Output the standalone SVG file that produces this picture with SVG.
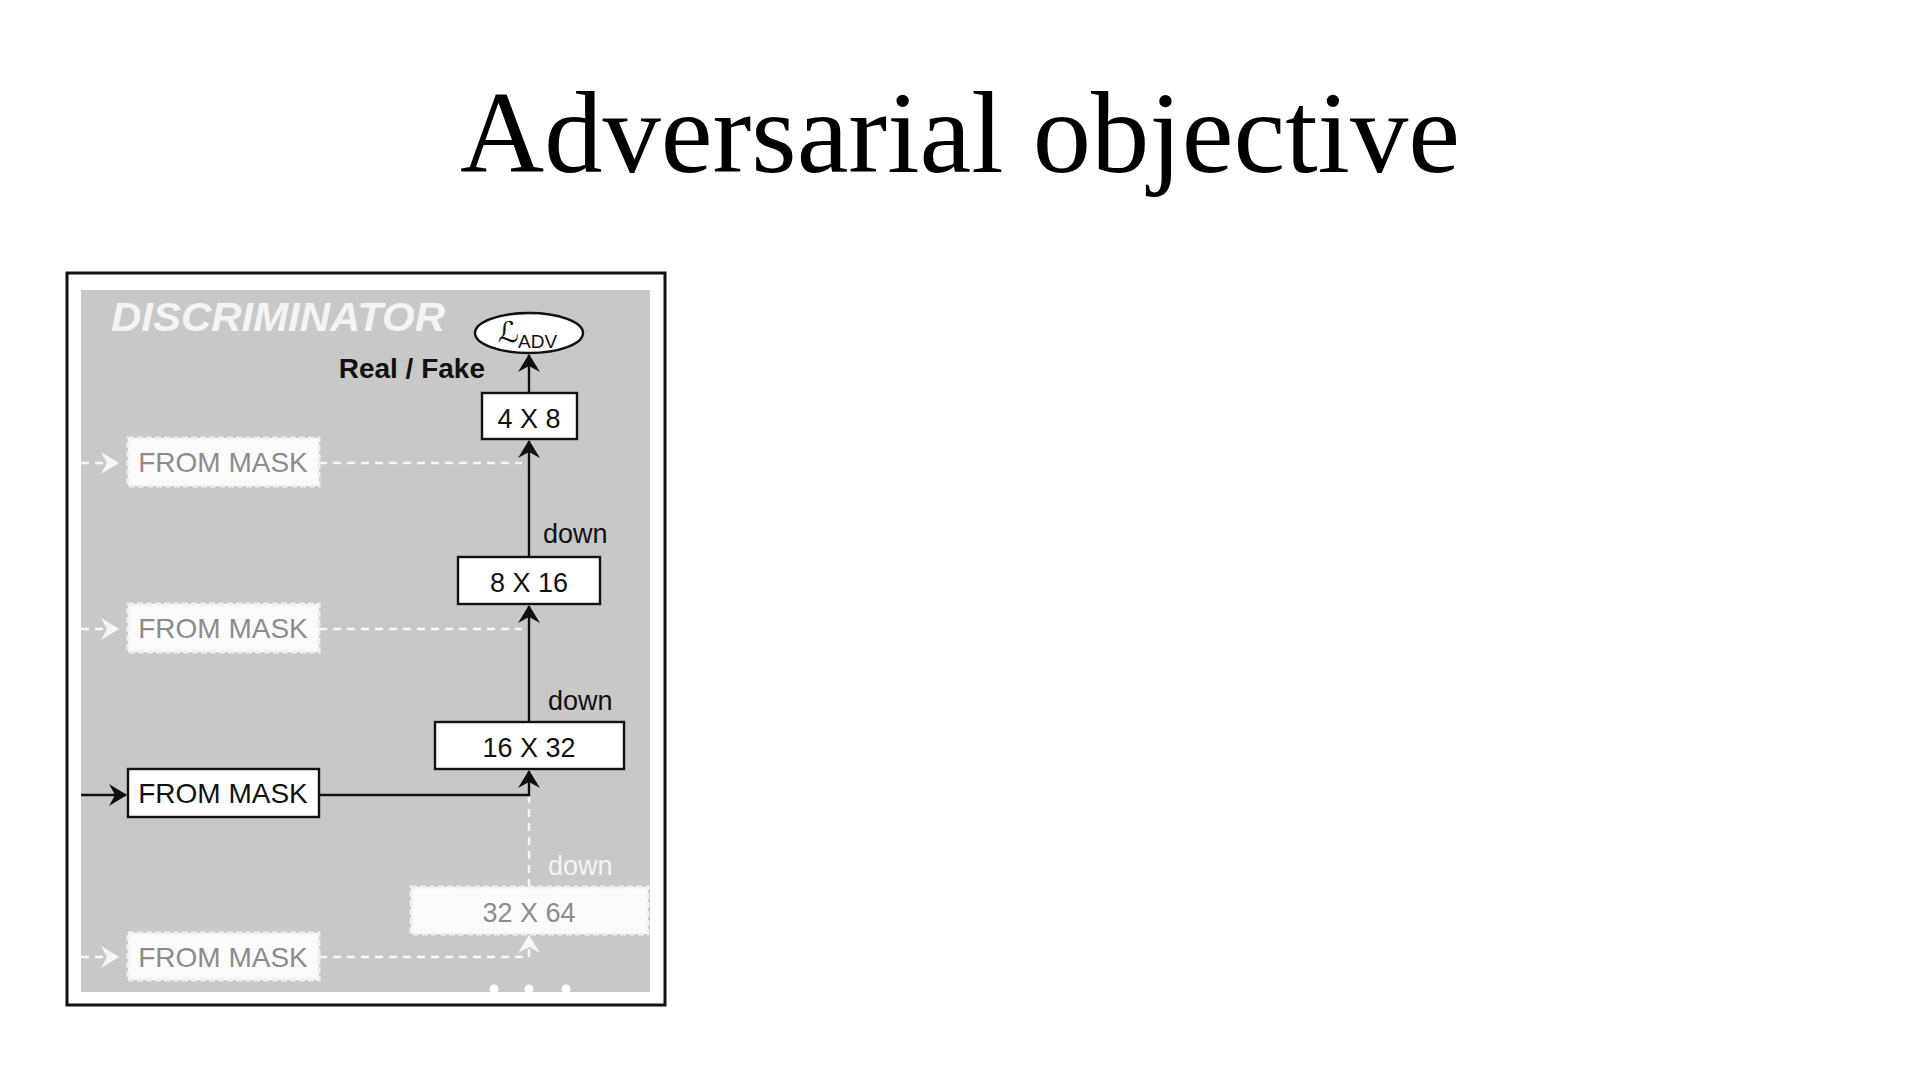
<svg xmlns="http://www.w3.org/2000/svg" width="1920" height="1080" viewBox="0 0 1920 1080">
<style>
.lbl{font-family:"Liberation Sans",Arial,sans-serif;font-size:27px;fill:#111;}
.mid{text-anchor:middle;}
.faded{fill:#8c8c8c;}
.box{fill:#fff;stroke:#111;stroke-width:2.4;}
.fbox{fill:#fbfbfb;stroke:#efefef;stroke-width:3;stroke-dasharray:6 3;}
.solid{fill:none;stroke:#111;stroke-width:2.4;}
.dash{fill:none;stroke:#f6f6f6;stroke-width:2.5;stroke-dasharray:8 6;}
</style>
<defs>
<marker id="ah" viewBox="0 0 18 22" refX="17" refY="11" markerWidth="18" markerHeight="22" markerUnits="userSpaceOnUse" orient="auto">
<path d="M0,0 L18,11 L0,22 L6,11 z" fill="#111"/>
</marker>
<marker id="ahw" viewBox="0 0 18 22" refX="17" refY="11" markerWidth="18" markerHeight="22" markerUnits="userSpaceOnUse" orient="auto">
<path d="M0,0 L18,11 L0,22 L6,11 z" fill="#f6f6f6"/>
</marker>
</defs>
<rect width="1920" height="1080" fill="#fff"/>
<text x="960" y="172" text-anchor="middle" font-family="'Liberation Serif','Times New Roman',serif" font-size="116" textLength="1000" lengthAdjust="spacingAndGlyphs" fill="#000">Adversarial objective</text>

<g id="frame">
<rect x="67" y="273" width="598" height="732" fill="#fff" stroke="#111" stroke-width="3"/>
<rect x="81" y="290" width="569" height="702" fill="#c8c8c8"/>
<text x="111" y="331" font-family="'Liberation Sans',Arial,sans-serif" font-weight="bold" font-style="italic" font-size="40" textLength="334" lengthAdjust="spacingAndGlyphs" fill="#f4f4f4">DISCRIMINATOR</text>
<text x="485" y="378" text-anchor="end" font-family="'Liberation Sans',Arial,sans-serif" font-weight="bold" font-size="28" fill="#111">Real / Fake</text>
<circle cx="494" cy="989" r="4.5" fill="#fff"/>
<circle cx="529" cy="989" r="4.5" fill="#fff"/>
<circle cx="566" cy="989" r="4.5" fill="#fff"/>
</g>

<g id="connectors">
<path class="dash" d="M81,463 H118" marker-end="url(#ahw)"/>
<path class="dash" d="M319,463 H522"/>
<path class="dash" d="M81,629 H118" marker-end="url(#ahw)"/>
<path class="dash" d="M319,629 H522"/>
<path class="dash" d="M81,957 H118" marker-end="url(#ahw)"/>
<path class="dash" d="M319,957 H529 V936" marker-end="url(#ahw)"/>
<path class="dash" d="M529,887 V797"/>
<path class="solid" d="M81,795 H126" marker-end="url(#ah)"/>
<path class="solid" d="M319,795 H529 V771" marker-end="url(#ah)"/>
<path class="solid" d="M529,722 V606" marker-end="url(#ah)"/>
<path class="solid" d="M529,557 V441" marker-end="url(#ah)"/>
<path class="solid" d="M529,393 V355" marker-end="url(#ah)"/>
<text class="lbl" x="543" y="543">down</text>
<text class="lbl" x="548" y="710">down</text>
<text class="lbl" x="548" y="875" style="fill:#f4f4f4">down</text>
</g>

<g id="loss">
<ellipse cx="529" cy="333" rx="54" ry="20" fill="#fff" stroke="#111" stroke-width="2.4"/>
<text x="498" y="342" font-family="'DejaVu Sans',sans-serif" font-size="29" fill="#111">ℒ</text>
<text x="518" y="348" font-family="'Liberation Sans',Arial,sans-serif" font-size="19" fill="#111">ADV</text>
</g>

<g id="n4x8">
<rect class="box" x="482" y="393" width="95" height="46"/>
<text class="lbl mid" x="529" y="428">4 X 8</text>
</g>
<g id="n8x16">
<rect class="box" x="458" y="557" width="142" height="47"/>
<text class="lbl mid" x="529" y="592">8 X 16</text>
</g>
<g id="n16x32">
<rect class="box" x="435" y="722" width="189" height="47"/>
<text class="lbl mid" x="529" y="757">16 X 32</text>
</g>
<g id="n32x64">
<rect class="fbox" x="411" y="887" width="237" height="47"/>
<text class="lbl mid faded" x="529" y="922">32 X 64</text>
</g>
<g id="mask1">
<rect class="fbox" x="128" y="438" width="191" height="48"/>
<text class="lbl mid faded" x="223" y="472" style="font-size:28px">FROM MASK</text>
</g>
<g id="mask2">
<rect class="fbox" x="128" y="604" width="191" height="48"/>
<text class="lbl mid faded" x="223" y="638" style="font-size:28px">FROM MASK</text>
</g>
<g id="mask3">
<rect class="box" x="128" y="769" width="191" height="48"/>
<text class="lbl mid" x="223" y="803" style="font-size:28px">FROM MASK</text>
</g>
<g id="mask4">
<rect class="fbox" x="128" y="933" width="191" height="47"/>
<text class="lbl mid faded" x="223" y="967" style="font-size:28px">FROM MASK</text>
</g>
</svg>
